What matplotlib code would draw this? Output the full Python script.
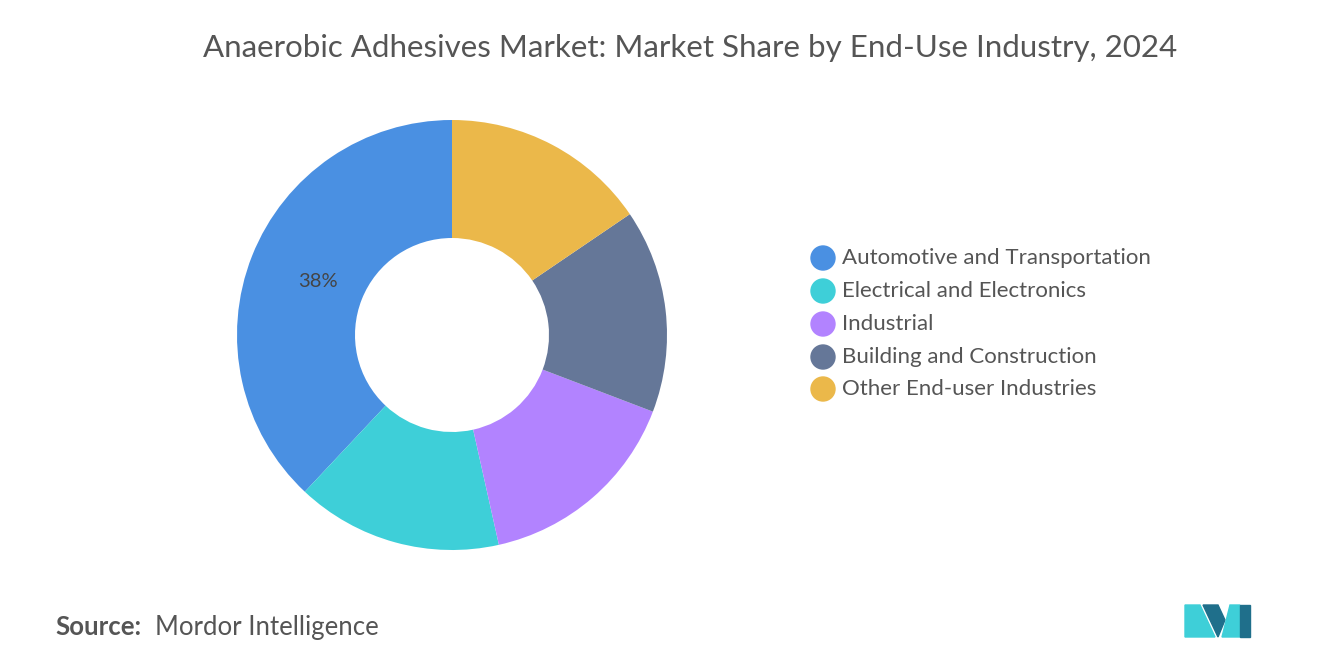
import matplotlib
matplotlib.use("Agg")
import matplotlib.pyplot as plt
import numpy as np

categories = ["Automotive and Transportation", "Electrical and Electronics", "Industrial",
              "Building and Construction", "Other End-user Industries"]
shares = [38, 15.5, 15.7, 15.3, 15.5]
colors = ["#4A90E2", "#3ECFD8", "#B283FF", "#657798", "#EBB84A"]

W, H = 1320, 665
fig = plt.figure(figsize=(W/100, H/100), dpi=100)
fig.patch.set_facecolor("white")

cx, cy, R, r = 452, 335, 215, 97
ax = fig.add_axes([(cx-R)/W, (H-cy-R)/H, 2*R/W, 2*R/H])
wedges, _ = ax.pie(shares, colors=colors, startangle=90, counterclock=True, radius=1,
                   wedgeprops=dict(width=(R-r)/R, edgecolor="white", linewidth=0))
ax.set_aspect("equal")
ax.set_xlim(-1, 1); ax.set_ylim(-1, 1)
w0 = wedges[0]
mid = np.deg2rad((w0.theta1 + w0.theta2) / 2)
ax.text(0.67*np.cos(mid), 0.67*np.sin(mid), f"{shares[0]:.0f}%", ha="center", va="center",
        fontsize=14.5, color="#444444", family="Lato")

fig.text(690/W, 1-48/H, "Anaerobic Adhesives Market: Market Share by End-Use Industry, 2024",
         ha="center", va="center", fontsize=22.5, color="#555555", family="Lato")

ys = [258, 291, 324, 357, 389]
for c, lab, y in zip(colors, categories, ys):
    fig.patches.append(matplotlib.patches.Ellipse((823/W, 1-y/H), 24/W, 24/H,
                       transform=fig.transFigure, color=c))
    fig.text(842/W, 1-y/H, lab, ha="left", va="center", fontsize=16, color="#555555", family="Lato")

fig.text(55/W, 1-627/H, "Source:", ha="left", va="center", fontsize=18.5, color="#555555",
         family="Lato", fontweight="bold")
fig.text(155/W, 1-627/H, "Mordor Intelligence", ha="left", va="center", fontsize=18.5,
         color="#555555", family="Lato")

from matplotlib.patches import Polygon
def P(pts, c):
    fig.patches.append(Polygon([(x/W, 1-y/H) for x, y in pts], closed=True,
                               transform=fig.transFigure, color=c))
P([(1185,637),(1185,605),(1200,605),(1215,637)], "#3ECFD8")
P([(1203,605),(1218,605),(1225,620),(1218,637)], "#1F6F8B")
P([(1222,637),(1230,605),(1240,605),(1240,637)], "#3ECFD8")
P([(1240,605),(1250,605),(1250,637),(1240,637)], "#1F6F8B")

fig.savefig("out.png", dpi=100)
